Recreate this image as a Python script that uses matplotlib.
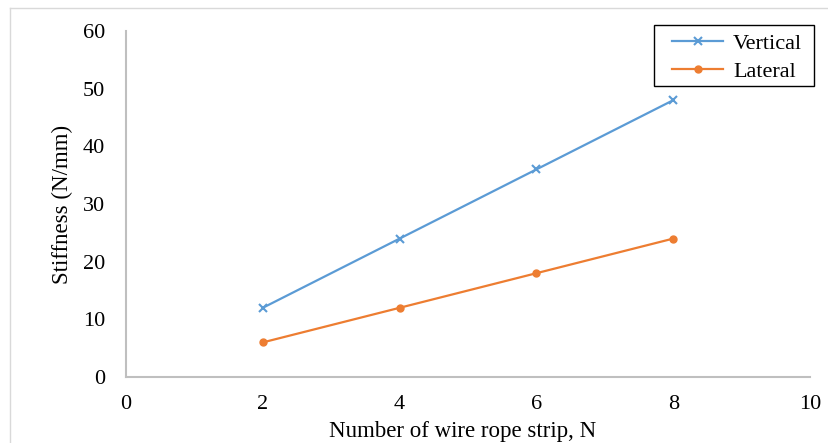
import matplotlib.pyplot as plt
from matplotlib.lines import Line2D
from matplotlib.patches import Rectangle

# data
strips = [2, 4, 6, 8]
vertical = [12, 24, 36, 48]
lateral = [6, 12, 18, 24]
x_ticks = [0, 2, 4, 6, 8, 10]
y_ticks = [0, 10, 20, 30, 40, 50, 60]

plt.rcParams['font.family'] = ['Liberation Serif', 'DejaVu Serif']

W, H = 829, 443
fig = plt.figure(figsize=(W / 100, H / 100), dpi=100)
ax = fig.add_axes([126 / W, 1 - 377 / H, (810 - 126) / W, (377 - 31) / H])

ax.plot(strips, vertical, color='#5B9BD5', lw=1.6, marker='x', ms=6, mew=1.5, label='Vertical')
ax.plot(strips, lateral, color='#ED7D31', lw=1.6, marker='o', ms=5, label='Lateral')

ax.set_xlim(0, 10)
ax.set_ylim(0, 60)
ax.set_xticks(x_ticks)
ax.set_yticks(y_ticks)
ax.tick_params(length=0, labelsize=16, colors='black')
ax.tick_params(axis='x', pad=13)
ax.tick_params(axis='y', pad=15)
for s in ['top', 'right']:
    ax.spines[s].set_visible(False)
for s in ['left', 'bottom']:
    ax.spines[s].set_color('#BFBFBF')
    ax.spines[s].set_linewidth(1.5)

ax.set_xlabel('Number of wire rope strip, N', fontsize=16.5)
ax.set_ylabel('Stiffness (N/mm)', fontsize=16.5)
ax.xaxis.set_label_coords((463 - 126) / (810 - 126), -(421 - 377) / (377 - 31))
ax.yaxis.set_label_coords(-(126 - 73) / (810 - 126), 0.5)

# legend entries without frame, box drawn separately (Excel-like padding)
leg = ax.legend(loc='upper left', bbox_to_anchor=(672 / W, 1 - 33 / H),
                bbox_transform=fig.transFigure, fontsize=16, frameon=False,
                borderaxespad=0, borderpad=0, handlelength=2.3,
                handletextpad=0.45, labelspacing=0.36)
fig.add_artist(Rectangle((654 / W, 1 - 86 / H), (814 - 654) / W, (86 - 25) / H,
                         transform=fig.transFigure, fill=False, ec='black', lw=1.0))

# chart area border (light gray)
fig.add_artist(Line2D([10.5 / W, 10.5 / W], [0, 1 - 8 / H], transform=fig.transFigure,
                      color='#D9D9D9', lw=1))
fig.add_artist(Line2D([10.5 / W, 1], [1 - 8 / H, 1 - 8 / H], transform=fig.transFigure,
                      color='#D9D9D9', lw=1))

fig.savefig('out.png', dpi=100)
